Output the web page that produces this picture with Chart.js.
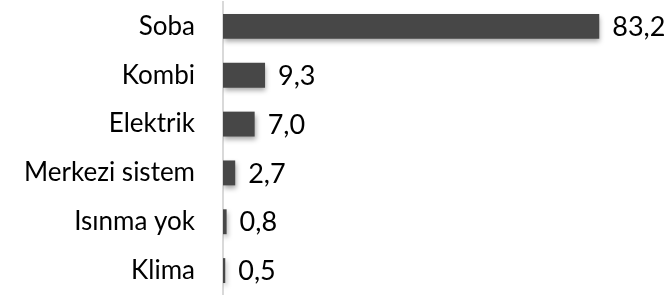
<!DOCTYPE html>
<html>
<head>
<meta charset="utf-8">
<script src="https://cdn.jsdelivr.net/npm/chart.js@4"></script>
<style>
  html, body { margin: 0; padding: 0; background: #fff; }
  #grafico { display: block; }
</style>
</head>
<body>
<canvas id="grafico" width="671" height="295"></canvas>
<script>
// dados do gráfico
var categorias = ['Soba', 'Kombi', 'Elektrik', 'Merkezi sistem', 'Isınma yok', 'Klima'];
var valores = [83.2, 9.3, 7.0, 2.7, 0.8, 0.5];

// sombra das barras
var sombra = {
    id: 'sombra',
    beforeDatasetsDraw: function (chart) {
        var ctx = chart.ctx;
        ctx.save();
        ctx.shadowColor = 'rgba(0, 0, 0, 0.35)';
        ctx.shadowBlur = 5;
        ctx.shadowOffsetX = 1;
        ctx.shadowOffsetY = 3;
    },
    afterDatasetsDraw: function (chart) {
        chart.ctx.restore();
    }
};

// rótulos de valor
var rotulos = {
    id: 'rotulos',
    afterDatasetsDraw: function (chart) {
        var ctx = chart.ctx;
        var meta = chart.getDatasetMeta(0);
        ctx.save();
        ctx.font = '27px Lato, "Open Sans", sans-serif';
        ctx.fillStyle = '#000';
        ctx.textAlign = 'left';
        ctx.textBaseline = 'middle';
        meta.data.forEach(function (bar, i) {
            var txt = valores[i].toFixed(1).replace('.', ',');
            ctx.fillText(txt, bar.x + 13, bar.y + 1);
        });
        ctx.restore();
    }
};

var ctx = document.querySelector('#grafico').getContext('2d');
var barChart = new Chart(ctx, {
    type: 'bar',
    data: {
        labels: categorias,
        datasets: [{
            data: valores,
            backgroundColor: '#474747',
            borderWidth: 0,
            barPercentage: 0.51,
            categoryPercentage: 1
        }]
    },
    options: {
        indexAxis: 'y',
        responsive: false,
        animation: false,
        layout: { padding: { top: 2, right: 41, bottom: 0, left: 0 } },
        plugins: {
            legend: { display: false },
            tooltip: { enabled: false }
        },
        scales: {
            x: {
                display: false,
                min: 0,
                max: 90
            },
            y: {
                afterFit: function (scale) {
                    scale.width = 223;
                    scale.paddingTop = 0;
                    scale.paddingBottom = 0;
                },
                grid: { display: false, drawTicks: false },
                border: { display: true, color: '#d9d9d9', width: 2 },
                ticks: {
                    padding: 28,
                    color: '#000',
                    font: { family: 'Lato, "Open Sans", sans-serif', size: 26 }
                }
            }
        }
    },
    plugins: [sombra, rotulos]
});
</script>
</body>
</html>
